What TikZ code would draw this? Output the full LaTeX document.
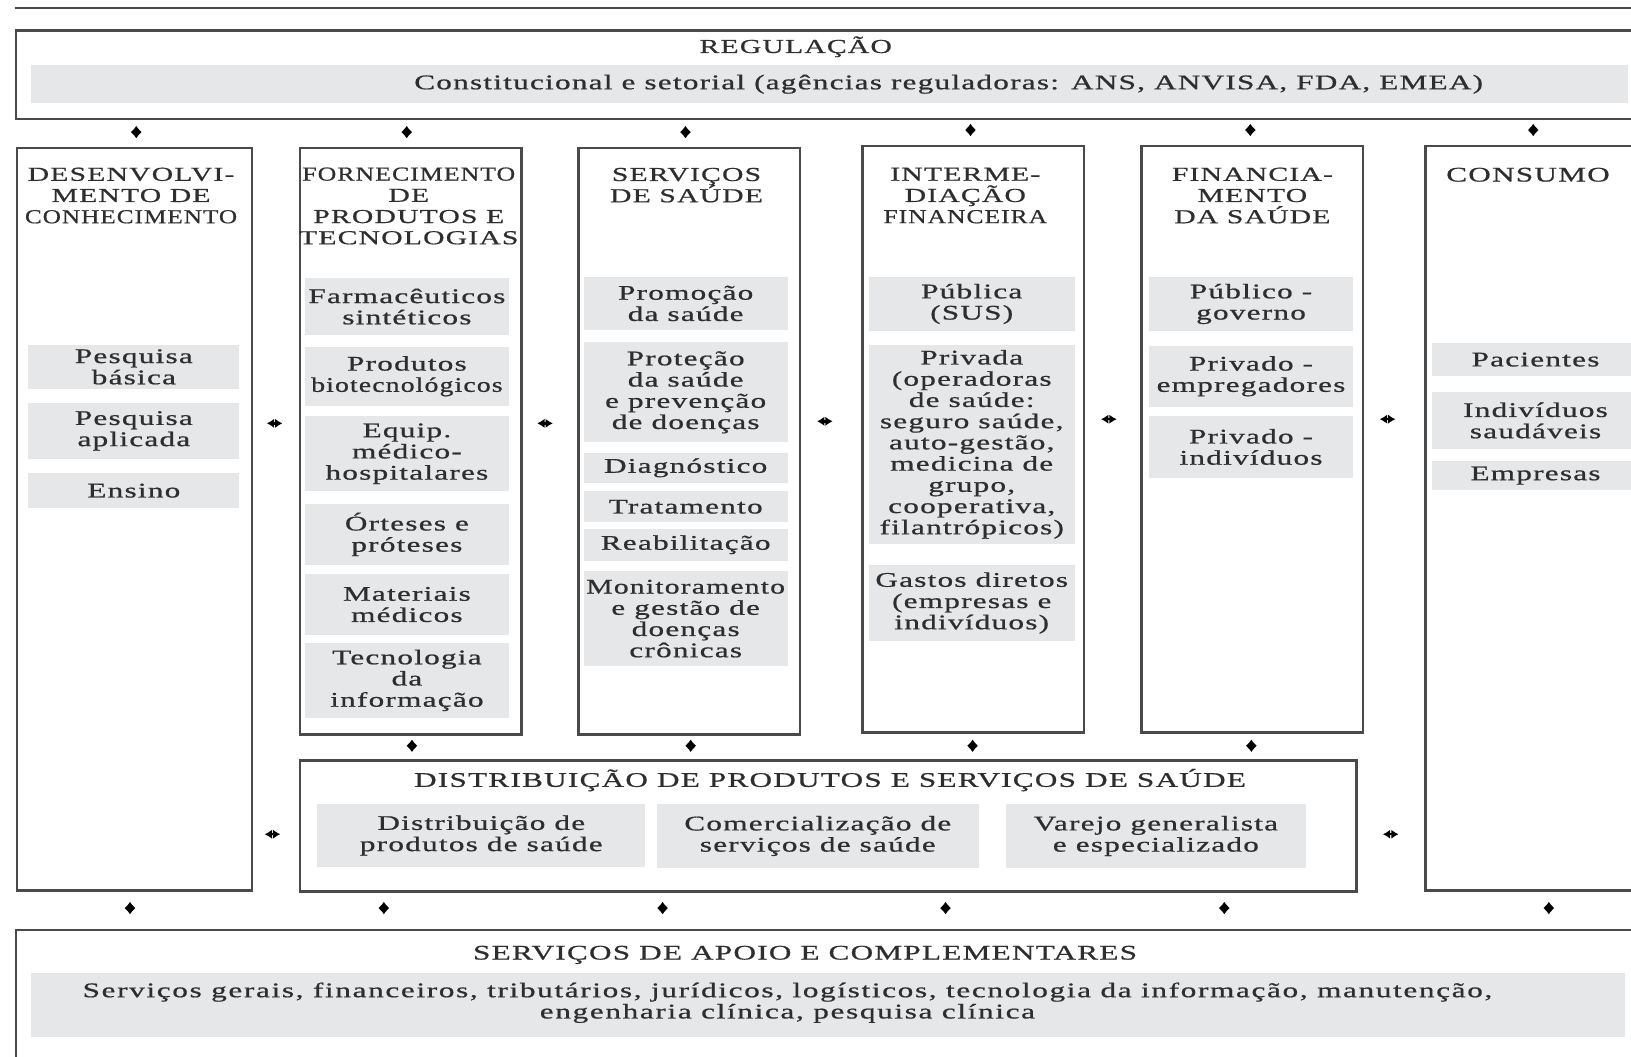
\documentclass[tikz,border=0pt]{standalone}
\usepackage{fontspec}
\setmainfont{Liberation Serif}[FakeStretch=1.5,LetterSpace=6,FakeBold=0.8]
\usetikzlibrary{positioning,arrows.meta}

\definecolor{inkgray}{HTML}{2E2E2E}
\definecolor{boxgray}{HTML}{E6E7E8}
\definecolor{framegray}{HTML}{4A4A4A}

% narrow one word so it fits its column
\newcommand{\squeeze}[2]{\scalebox{#1}[1]{#2}}

\begin{document}
\begin{tikzpicture}[x=1pt, y=-1pt,
  frame/.style={draw=framegray, line width=2.4pt, anchor=north west, inner sep=0pt},
  band/.style={fill=boxgray, anchor=north west, inner sep=0pt},
  item/.style={band, align=center, text=inkgray, font=\fontsize{20}{20.4}\selectfont},
  label/.style={text=inkgray, align=center, inner sep=0pt, font=\fontsize{20}{20.4}\selectfont},
  title/.style={label, font=\fontsize{19}{20.4}\selectfont},
  vlink/.style={{Latex[length=6pt,width=11pt]}-{Latex[length=6pt,width=11pt]}, line width=2.4pt, black},
  hlink/.style={{Latex[length=7pt,width=9pt]}-{Latex[length=7pt,width=9pt]}, line width=2.4pt, black}
  ]
  \clip (0,0) rectangle (1568,1016);

  % ===== TOP RULE + REGULACAO =====
  \draw[framegray, line width=2pt] (14,8) -- (1600,8);
  \node[frame, minimum width=1600, minimum height=85] (reg) at (14,28) {};
  \node[title] (regT) at (765,45) {REGULAÇÃO};
  \node[band, minimum width=1535, minimum height=37] (regB) at (30,62) {};
  \node[label] (regL) at (912,81)
    {Constitucional e setorial (agências reguladoras: ANS, ANVISA, FDA, EMEA)};

  % ===== COLUMNS =====
  \node[frame, minimum width=226, minimum height=714] (dev) at (15,141) {};
  \node[frame, minimum width=213, minimum height=564] (sup) at (287,141) {};
  \node[frame, minimum width=213, minimum height=564] (srv) at (555,141) {};
  \node[frame, minimum width=213, minimum height=564] (int) at (828,139) {};
  \node[frame, minimum width=213, minimum height=564] (fin) at (1096,139) {};
  \node[frame, minimum width=250, minimum height=716] (con) at (1369,139) {};

  \node[title] (devT) at (126,188) {DESENVOLVI-\\MENTO DE\\\squeeze{0.85}{CONHECIMENTO}};
  \node[title] (supT) at (393,198) {\squeeze{0.87}{FORNECIMENTO}\\DE\\PRODUTOS E\\TECNOLOGIAS};
  \node[title] (srvT) at (660,178) {SERVIÇOS\\DE SAÚDE};
  \node[title] (intT) at (928,188) {INTERME-\\DIAÇÃO\\\squeeze{0.86}{FINANCEIRA}};
  \node[title] (finT) at (1204,188) {FINANCIA-\\MENTO\\DA SAÚDE};
  \node[label] (conT) at (1469,168) {CONSUMO};

  % ===== desenvolvimento =====
  \node[item, minimum width=203, minimum height=43] (dev1) at (27,331) {Pesquisa\\básica};
  \node[item, minimum width=203, minimum height=54] (dev2) at (27,387) {Pesquisa\\aplicada};
  \node[item, minimum width=203, minimum height=33] (dev3) at (27,455) {Ensino};

  % ===== fornecimento =====
  \node[item, minimum width=196, minimum height=55] (sup1) at (293,267) {Farmacêuticos\\sintéticos};
  \node[item, minimum width=196, minimum height=57] (sup2) at (293,333) {Produtos\\\squeeze{0.89}{biotecnológicos}};
  \node[item, minimum width=196, minimum height=72] (sup3) at (293,400) {Equip.\\médico-\\hospitalares};
  \node[item, minimum width=196, minimum height=59] (sup4) at (293,484) {Órteses e\\próteses};
  \node[item, minimum width=196, minimum height=58] (sup5) at (293,552) {Materiais\\médicos};
  \node[item, minimum width=196, minimum height=72] (sup6) at (293,618) {Tecnologia\\da\\informação};

  % ===== servicos de saude =====
  \node[item, minimum width=196, minimum height=51] (srv1) at (561,266) {Promoção\\da saúde};
  \node[item, minimum width=196, minimum height=96] (srv2) at (561,329) {Proteção\\da saúde\\e prevenção\\de doenças};
  \node[item, minimum width=196, minimum height=29] (srv3) at (561,435) {Diagnóstico};
  \node[item, minimum width=196, minimum height=30] (srv4) at (561,472) {Tratamento};
  \node[item, minimum width=196, minimum height=31] (srv5) at (561,508) {Reabilitação};
  \node[item, minimum width=196, minimum height=91] (srv6) at (561,549) {\squeeze{0.95}{Monitoramento}\\e gestão de\\doenças\\crônicas};

  % ===== intermediacao =====
  \node[item, minimum width=198, minimum height=52] (int1) at (835,266) {Pública\\(SUS)};
  \node[item, minimum width=198, minimum height=192] (int2) at (835,331)
    {Privada\\(operadoras\\de saúde:\\seguro saúde,\\auto-gestão,\\medicina de\\grupo,\\cooperativa,\\filantrópicos)};
  \node[item, minimum width=198, minimum height=73] (int3) at (835,543) {Gastos diretos\\(empresas e\\indivíduos)};

  % ===== financiamento =====
  \node[item, minimum width=197, minimum height=52] (fin1) at (1104,266) {Público -\\governo};
  \node[item, minimum width=197, minimum height=59] (fin2) at (1104,332) {Privado -\\empregadores};
  \node[item, minimum width=197, minimum height=59] (fin3) at (1104,400) {Privado -\\indivíduos};

  % ===== consumo =====
  \node[item, minimum width=200, minimum height=31] (con1) at (1376,330) {Pacientes};
  \node[item, minimum width=200, minimum height=54] (con2) at (1376,377) {Indivíduos\\saudáveis};
  \node[item, minimum width=200, minimum height=28] (con3) at (1376,443) {Empresas};

  % ===== DISTRIBUICAO =====
  \node[frame, minimum width=1016, minimum height=126] (dist) at (287,730) {};
  \node[label] (distT) at (798,750) {DISTRIBUIÇÃO DE PRODUTOS E SERVIÇOS DE SAÚDE};
  \node[item, minimum width=315, minimum height=60] (dist1) at (305,773) {Distribuição de\\produtos de saúde};
  \node[item, minimum width=310, minimum height=61] (dist2) at (631,773) {Comercialização de\\serviços de saúde};
  \node[item, minimum width=288, minimum height=61] (dist3) at (967,773) {Varejo generalista\\e especializado};

  % ===== APOIO =====
  \node[frame, minimum width=1600, minimum height=200] (apo) at (14,893) {};
  \node[label] (apoT) at (774,918) {SERVIÇOS DE APOIO E COMPLEMENTARES};
  \node[band, minimum width=1532, minimum height=62] (apoB) at (30,935) {};
  \node[label, font=\fontsize{20}{20.4}\selectfont\addfontfeatures{LetterSpace=8}] (apoL) at (757,964)
    {Serviços gerais, financeiros, tributários, jurídicos, logísticos, tecnologia da informação, manutenção,\\engenharia clínica, pesquisa clínica};

  % ===== ARROWS =====
  \coordinate (a1) at (131,127);  \coordinate (a2) at (391,127);
  \coordinate (a3) at (659,127);  \coordinate (a4) at (933,125);
  \coordinate (a5) at (1202,125); \coordinate (a6) at (1474,125);
  \coordinate (b1) at (396,717);  \coordinate (b2) at (664,717);
  \coordinate (b3) at (935,717);  \coordinate (b4) at (1203,717);
  \coordinate (c1) at (125,873);  \coordinate (c2) at (369,873);
  \coordinate (c3) at (637,873);  \coordinate (c4) at (909,873);
  \coordinate (c5) at (1177,873); \coordinate (c6) at (1489,873);
  \coordinate (h1) at (264,407);  \coordinate (h2) at (524,407);
  \coordinate (h3) at (793,405);  \coordinate (h4) at (1066,403);
  \coordinate (h5) at (1334,403); \coordinate (h6) at (262,802);
  \coordinate (h7) at (1337,802);

  \draw[vlink] ([yshift=6pt]a1) -- ([yshift=-6pt]a1);
  \draw[vlink] ([yshift=6pt]a2) -- ([yshift=-6pt]a2);
  \draw[vlink] ([yshift=6pt]a3) -- ([yshift=-6pt]a3);
  \draw[vlink] ([yshift=6pt]a4) -- ([yshift=-6pt]a4);
  \draw[vlink] ([yshift=6pt]a5) -- ([yshift=-6pt]a5);
  \draw[vlink] ([yshift=6pt]a6) -- ([yshift=-6pt]a6);

  \draw[vlink] ([yshift=6pt]b1) -- ([yshift=-6pt]b1);
  \draw[vlink] ([yshift=6pt]b2) -- ([yshift=-6pt]b2);
  \draw[vlink] ([yshift=6pt]b3) -- ([yshift=-6pt]b3);
  \draw[vlink] ([yshift=6pt]b4) -- ([yshift=-6pt]b4);

  \draw[vlink] ([yshift=6pt]c1) -- ([yshift=-6pt]c1);
  \draw[vlink] ([yshift=6pt]c2) -- ([yshift=-6pt]c2);
  \draw[vlink] ([yshift=6pt]c3) -- ([yshift=-6pt]c3);
  \draw[vlink] ([yshift=6pt]c4) -- ([yshift=-6pt]c4);
  \draw[vlink] ([yshift=6pt]c5) -- ([yshift=-6pt]c5);
  \draw[vlink] ([yshift=6pt]c6) -- ([yshift=-6pt]c6);

  \draw[hlink] ([xshift=-7.5pt]h1) -- ([xshift=7.5pt]h1);
  \draw[hlink] ([xshift=-7.5pt]h2) -- ([xshift=7.5pt]h2);
  \draw[hlink] ([xshift=-7.5pt]h3) -- ([xshift=7.5pt]h3);
  \draw[hlink] ([xshift=-7.5pt]h4) -- ([xshift=7.5pt]h4);
  \draw[hlink] ([xshift=-7.5pt]h5) -- ([xshift=7.5pt]h5);
  \draw[hlink] ([xshift=-7.5pt]h6) -- ([xshift=7.5pt]h6);
  \draw[hlink] ([xshift=-7.5pt]h7) -- ([xshift=7.5pt]h7);

\end{tikzpicture}
\end{document}
